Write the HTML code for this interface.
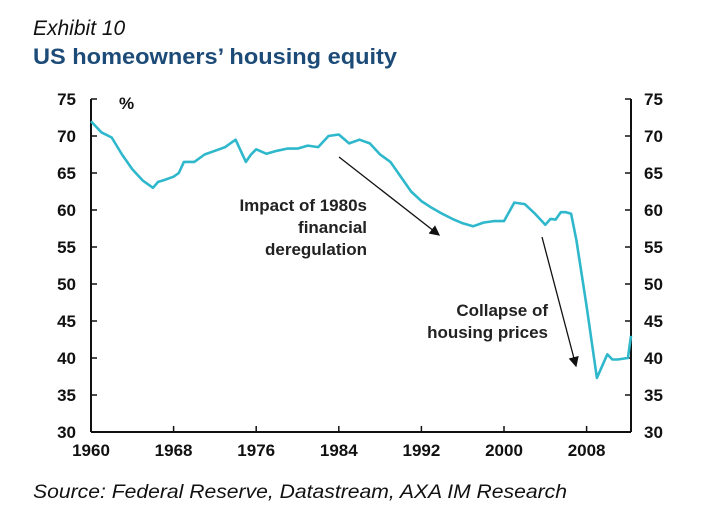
<!DOCTYPE html>
<html><head><meta charset="utf-8"><style>
body{margin:0;background:#fff;}
svg{display:block;font-family:"Liberation Sans",Arial,sans-serif;}
</style></head><body>
<svg width="724" height="511" viewBox="0 0 724 511">
<text x="33" y="35" font-size="21" font-style="italic" fill="#111">Exhibit 10</text>
<text x="33" y="64" font-size="22" font-weight="bold" fill="#1d4b78" textLength="364" lengthAdjust="spacingAndGlyphs">US homeowners’ housing equity</text>
<text x="33" y="498" font-size="19" font-style="italic" fill="#111" textLength="534" lengthAdjust="spacingAndGlyphs">Source: Federal Reserve, Datastream, AXA IM Research</text>
<g id="axes"></g>
<path id="line" fill="none" stroke="#2fb8cc" stroke-width="2.6" stroke-linejoin="round"/>
<text x="119" y="109" font-size="17" font-weight="bold" fill="#111">%</text>
<g font-size="17" font-weight="bold" fill="#222" text-anchor="end">
<text x="367" y="211">Impact of 1980s</text><text x="367" y="233">financial</text><text x="367" y="255">deregulation</text>
</g>
<g font-size="17" font-weight="bold" fill="#222" text-anchor="end">
<text x="548" y="316">Collapse of</text><text x="548" y="338">housing prices</text>
</g>
<defs><marker id="ah" markerWidth="8" markerHeight="8" refX="7" refY="4" orient="auto"><path d="M0,0 L8,4 L0,8 z" fill="#111"/></marker></defs>
<line x1="339" y1="157" x2="439" y2="235" stroke="#111" stroke-width="1.3" marker-end="url(#ah)"/>
<line x1="542" y1="237" x2="576" y2="366" stroke="#111" stroke-width="1.3" marker-end="url(#ah)"/>
</svg>
<script>
const years=[1960,1961,1962,1963,1964,1965,1966,1966.5,1967,1968,1968.5,1969,1970,1971,1972,1973,1974,1975,1975.5,1976,1977,1978,1979,1980,1981,1982,1983,1984,1985,1986,1987,1988,1989,1990,1991,1992,1993,1994,1995,1996,1997,1998,1999,2000,2001,2002,2003,2004,2004.5,2005,2005.5,2006,2006.5,2007,2008,2009,2010,2010.5,2011,2012,2012.3];
const equity=[72,70.5,69.8,67.5,65.5,64,63,63.8,64,64.5,65,66.5,66.5,67.5,68,68.5,69.5,66.5,67.5,68.2,67.6,68,68.3,68.3,68.7,68.5,70,70.2,69,69.5,69,67.5,66.5,64.5,62.5,61.2,60.3,59.5,58.8,58.2,57.8,58.3,58.5,58.5,61,60.8,59.5,58,58.8,58.7,59.7,59.7,59.5,56,47,37.3,40.5,39.8,39.8,40,43];
const yTicks=[30,35,40,45,50,55,60,65,70,75];
const xTicks=[1960,1968,1976,1984,1992,2000,2008];
const X0=91,X1=631,YR0=1960,YR1=2012.3,Y0=432,Y1=99;
const sx=y=>X0+(y-YR0)*(X1-X0)/(YR1-YR0);
const sy=v=>Y0-(v-30)*(Y0-Y1)/45;
const NS="http://www.w3.org/2000/svg";
const g=document.getElementById('axes');
function mk(t,a){const e=document.createElementNS(NS,t);for(const k in a)e.setAttribute(k,a[k]);g.appendChild(e);return e;}
let l=mk('line',{x1:X0,y1:Y1,x2:X0,y2:Y0,stroke:'#111','stroke-width':2});


l=mk('line',{x1:X1,y1:Y1,x2:X1,y2:Y0,stroke:'#111','stroke-width':2});


l=mk('line',{x1:X0,y1:Y0,x2:X1,y2:Y0,stroke:'#111','stroke-width':2});


yTicks.forEach(v=>{
 const y=sy(v);
 mk('line',{x1:X0,y1:y,x2:X0+6,y2:y,stroke:'#111','stroke-width':1.5});
 mk('line',{x1:X1-6,y1:y,x2:X1,y2:y,stroke:'#111','stroke-width':1.5});
 const t=mk('text',{x:76,y:y+6,'font-size':17,'font-weight':'bold','text-anchor':'end',fill:'#111'});t.textContent=v;
 
 
 const t2=mk('text',{x:644,y:y+6,'font-size':17,'font-weight':'bold',fill:'#111'});t2.textContent=v;
 
 
});
xTicks.forEach(v=>{
 const x=sx(v);
 mk('line',{x1:x,y1:Y0,x2:x,y2:Y0-6,stroke:'#111','stroke-width':1.5});
 const t=mk('text',{x:x,y:Y0+24,'font-size':17,'font-weight':'bold','text-anchor':'middle',fill:'#111'});t.textContent=v;
 
 
});
document.getElementById('line').setAttribute('d',years.map((y,i)=>(i?'L':'M')+sx(y).toFixed(1)+','+sy(equity[i]).toFixed(1)).join(''));
</script>
</body></html>
